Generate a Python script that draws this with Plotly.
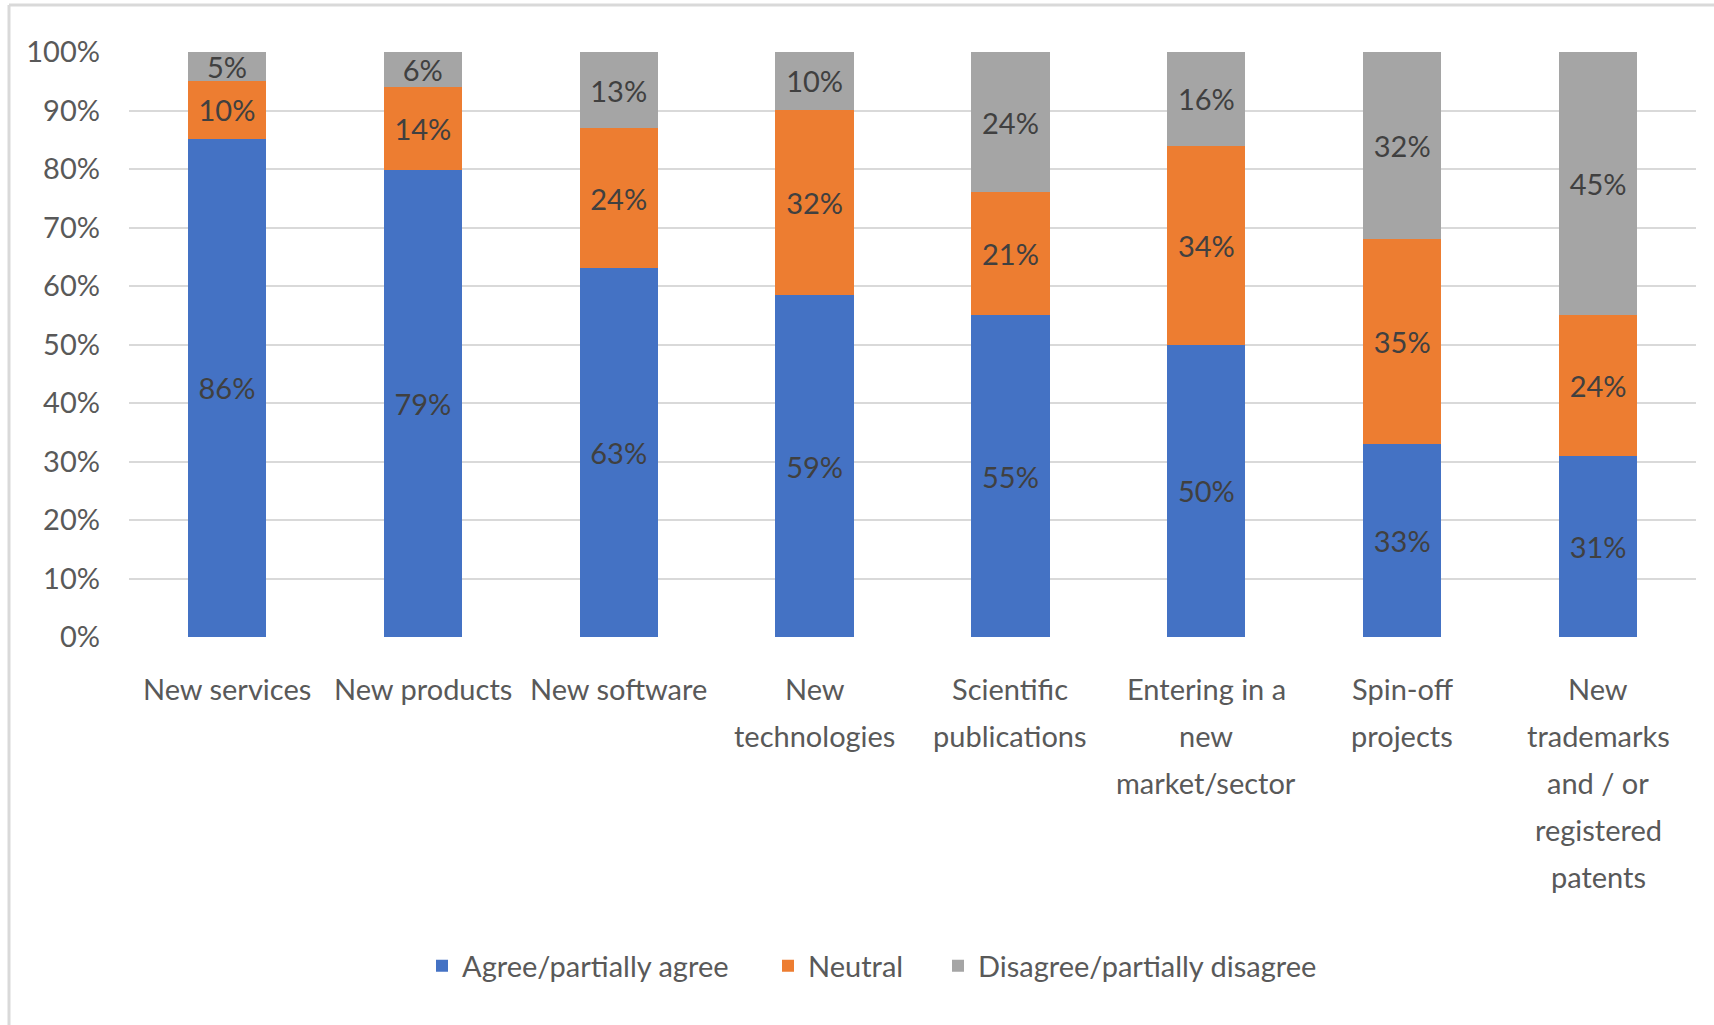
import plotly.graph_objects as go

categories = [
    "New services",
    "New products",
    "New software",
    "New<br>technologies",
    "Scientific<br>publications",
    "Entering in a<br>new<br>market/sector",
    "Spin-off<br>projects",
    "New<br>trademarks<br>and / or<br>registered<br>patents",
]
agree = [86, 79, 63, 59, 55, 50, 33, 31]
neutral = [10, 14, 24, 32, 21, 34, 35, 24]
disagree = [5, 6, 13, 10, 24, 16, 32, 45]

series_names = ["Agree/partially agree", "Neutral", "Disagree/partially disagree"]
series_colors = ["#4472C4", "#ED7D31", "#A5A5A5"]

FONT = "Lato, sans-serif"
W, H = 1714, 1025
L, R, T, B = 129, 18, 52, 388

# pixel -> paper helpers
px_x = lambda p: (p - L) / (W - L - R)
px_y = lambda p: (H - B - p) / (H - T - B)

legend_keys = ["legend", "legend2", "legend3"]
legend_left_px = [422, 768, 938]

fig = go.Figure()
for name, vals, color, lg in zip(series_names, [agree, neutral, disagree], series_colors, legend_keys):
    fig.add_trace(go.Bar(
        name=name,
        x=categories,
        y=vals,
        legend=lg,
        marker=dict(color=color, line=dict(width=0)),
        text=[f"{v}%" for v in vals],
        texttemplate="%{text}",
        textposition="inside",
        insidetextanchor="middle",
        textangle=0,
        textfont=dict(family=FONT, size=29, color="#404040"),
    ))

# category labels, one text line at a time with Excel-like line spacing
LINE0, LINE_STEP = 688, 47.2
for cat in categories:
    for i, line in enumerate(cat.split("<br>")):
        fig.add_annotation(
            x=cat, xref="x",
            y=px_y(LINE0 + i * LINE_STEP), yref="paper",
            text=line, showarrow=False,
            xanchor="center", yanchor="middle",
            font=dict(family=FONT, size=29, color="#595959"),
        )

# chart frame: top and left edges in light gray
fig.add_shape(type="line", xref="paper", yref="paper",
              x0=px_x(9), x1=px_x(W + 5), y0=px_y(5), y1=px_y(5),
              line=dict(color="#D9D9D9", width=3))
fig.add_shape(type="line", xref="paper", yref="paper",
              x0=px_x(9), x1=px_x(9), y0=px_y(5), y1=px_y(H + 5),
              line=dict(color="#D9D9D9", width=3))

legend_common = dict(
    orientation="h",
    yanchor="middle",
    y=px_y(966),
    xanchor="left",
    bgcolor="rgba(0,0,0,0)",
    font=dict(family=FONT, size=29, color="#595959"),
    itemwidth=30,
)

fig.update_layout(
    barmode="stack",
    barnorm="percent",
    bargap=0.6,
    width=W,
    height=H,
    margin=dict(l=L, r=R, t=T, b=B, pad=0),
    paper_bgcolor="white",
    plot_bgcolor="white",
    font=dict(family=FONT, size=29, color="#595959"),
    uniformtext=dict(minsize=29, mode="show"),
    showlegend=True,
    legend=dict(legend_common, x=px_x(legend_left_px[0])),
    legend2=dict(legend_common, x=px_x(legend_left_px[1])),
    legend3=dict(legend_common, x=px_x(legend_left_px[2])),
    xaxis=dict(
        showgrid=False,
        showline=False,
        zeroline=False,
        ticks="",
        showticklabels=False,
    ),
    yaxis=dict(
        range=[0, 100],
        dtick=10,
        ticksuffix="%",
        showgrid=True,
        gridcolor="#D9D9D9",
        gridwidth=2,
        zeroline=False,
        showline=False,
        ticks="",
        ticklabelstandoff=28,
        tickfont=dict(family=FONT, size=29, color="#595959"),
    ),
)

fig.write_html("out.html")
